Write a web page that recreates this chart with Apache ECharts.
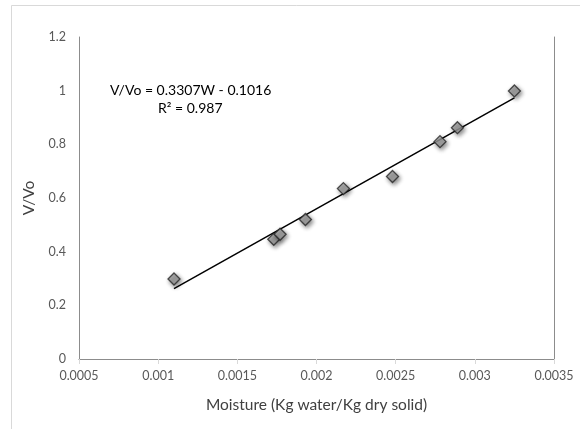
<!DOCTYPE html>
<html>
<head>
<meta charset="utf-8">
<script src="https://cdn.jsdelivr.net/npm/echarts@6/dist/echarts.min.js"></script>
<style>
html,body{margin:0;padding:0;background:#fff;}
#c{width:580px;height:429px;}
</style>
</head>
<body>
<div id="c"></div>
<script>
// Data
var moisture = [0.00110, 0.00173, 0.00177, 0.00193, 0.00217, 0.00248, 0.00278, 0.00289, 0.00325];
var vvo      = [0.298,   0.446,   0.465,   0.520,   0.635,   0.680,   0.810,   0.862,   0.999];
var trendX = [0.00110, 0.00325];
var trendY = [0.262, 0.973];
var xTicks = ['0.0005','0.001','0.0015','0.002','0.0025','0.003','0.0035'];
var yTicks = ['0','0.2','0.4','0.6','0.8','1','1.2'];
var equationText = 'V/Vo = 0.3307W - 0.1016';
var r2Text = 'R\u00B2 = 0.987';
var xTitle = 'Moisture (Kg water/Kg dry solid)';
var yTitle = 'V/Vo';

var points = moisture.map(function (x, i) { return [x, vvo[i]]; });
var trend = trendX.map(function (x, i) { return [x, trendY[i]]; });

function fmtX(v) {
  var s = +(+v).toFixed(4);
  var idx = Math.round((s - 0.0005) / 0.0005);
  return xTicks[idx] !== undefined ? xTicks[idx] : String(s);
}
function fmtY(v) {
  var idx = Math.round(v / 0.2);
  return yTicks[idx] !== undefined ? yTicks[idx] : String(v);
}

var font = 'Lato, "Open Sans", sans-serif';
var chart = echarts.init(document.getElementById('c'), null, {renderer: 'canvas'});
chart.setOption({
  animation: false,
  backgroundColor: '#fff',
  grid: {left: 79, top: 37, right: 26, bottom: 70, containLabel: false, outerBoundsMode: 'none'},
  xAxis: [{
    type: 'value', min: 0.0005, max: 0.0035, interval: 0.0005,
    name: xTitle, nameLocation: 'middle', nameGap: 38,
    nameTextStyle: {color: '#404040', fontSize: 15.5, fontFamily: font},
    axisLine: {show: true, onZero: false, lineStyle: {color: '#d9d9d9', width: 1}},
    axisTick: {show: true, length: 5, lineStyle: {color: '#d9d9d9'}},
    axisLabel: {color: '#595959', fontSize: 12.5, fontFamily: font, margin: 10, formatter: fmtX},
    splitLine: {show: false}
  }, {
    type: 'value', position: 'top', min: 0.0005, max: 0.0035,
    axisLine: {show: true, lineStyle: {color: '#8c8c8c', width: 1}},
    axisTick: {show: false}, axisLabel: {show: false}, splitLine: {show: false}
  }],
  yAxis: [{
    type: 'value', min: 0, max: 1.2, interval: 0.2,
    name: yTitle, nameLocation: 'middle', nameGap: 42, nameRotate: 90,
    nameTextStyle: {color: '#404040', fontSize: 15.5, fontFamily: font},
    axisLine: {show: true, lineStyle: {color: '#8c8c8c', width: 1}},
    axisTick: {show: false},
    axisLabel: {color: '#595959', fontSize: 12.5, fontFamily: font, margin: 13, formatter: fmtY},
    splitLine: {show: false}
  }, {
    type: 'value', position: 'right', min: 0, max: 1.2,
    axisLine: {show: true, lineStyle: {color: '#8c8c8c', width: 1}},
    axisTick: {show: false}, axisLabel: {show: false}, splitLine: {show: false}
  }],
  series: [{
    type: 'line', data: trend, symbol: 'none', silent: true, z: 2,
    lineStyle: {color: '#000', width: 1.5}
  }, {
    type: 'scatter', data: points, symbol: 'diamond', symbolSize: 12, z: 3,
    itemStyle: {
      color: '#a5a5a5', borderColor: '#262626', borderWidth: 1.3,
      shadowBlur: 4, shadowColor: 'rgba(0,0,0,0.55)', shadowOffsetX: 1.5, shadowOffsetY: 2
    }
  }],
  graphic: [{
    type: 'rect', silent: true, z: -1,
    shape: {x: 11.5, y: 5.5, width: 700, height: 600},
    style: {fill: null, stroke: '#d9d9d9', lineWidth: 1}
  }, {
    type: 'text', left: 110, top: 83,
    style: {text: equationText, fill: '#000', font: '14px ' + font}
  }, {
    type: 'text', left: 158, top: 101,
    style: {text: r2Text, fill: '#000', font: '14px ' + font}
  }]
});
</script>
</body>
</html>
